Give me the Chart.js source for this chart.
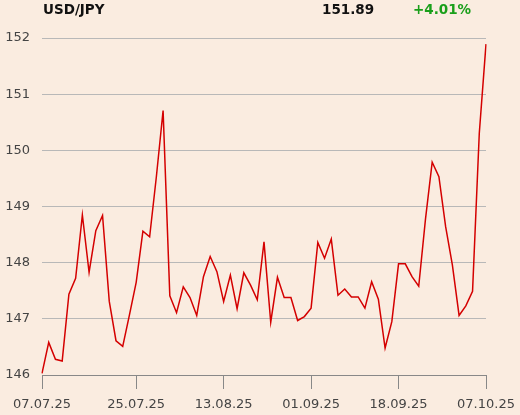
<!DOCTYPE html>
<html>
<head>
<meta charset="utf-8">
<script src="https://cdn.jsdelivr.net/npm/chart.js@4"></script>
<style>
    body { margin: 0; background: #faece0; }
    #wrap { position: relative; width: 520px; height: 415px; }
    .hdr { position: absolute; top: 1px; font: bold 13.5px "DejaVu Sans", sans-serif; color: #111; }
</style>
</head>
<body>
<div id="wrap">
    <span class="hdr" style="left: 43px;">USD/JPY</span>
    <span class="hdr" style="left: 322px;">151.89</span>
    <span class="hdr" style="left: 413px; color: #1a9f1a;">+4.01%</span>
    <canvas id="c" width="520" height="415"></canvas>
</div>
<script>
// USD/JPY closes, one per business day 07.07.25 - 07.10.25
const rates = [
    146.03, 146.58, 146.28, 146.25, 147.44, 147.72, 148.85, 147.83, 148.57, 148.84,
    147.31, 146.61, 146.51, 147.07, 147.65, 148.56, 148.46, 149.53, 150.71, 147.41,
    147.11, 147.57, 147.38, 147.06, 147.75, 148.11, 147.84, 147.31, 147.78, 147.18,
    147.82, 147.60, 147.34, 148.37, 146.94, 147.74, 147.38, 147.38, 146.97, 147.04,
    147.19, 148.36, 148.08, 148.42, 147.42, 147.53, 147.39, 147.39, 147.19, 147.66,
    147.35, 146.48, 146.95, 147.98, 147.98, 147.75, 147.58, 148.77, 149.79, 149.53,
    148.64, 147.96, 147.06, 147.23, 147.49, 150.30, 151.89
];
const tickIdx = [0, 14, 27, 40, 53, 66];
const tickLabels = ["07.07.25", "25.07.25", "13.08.25", "01.09.25", "18.09.25", "07.10.25"];
const yTicks = [146, 147, 148, 149, 150, 151, 152];

// business-day categories
const days = [];
const d = new Date(2025, 6, 7);
while (days.length < rates.length) {
    const wd = d.getDay();
    if (wd !== 0 && wd !== 6) {
        days.push(String(d.getDate()).padStart(2, "0") + "." +
            String(d.getMonth() + 1).padStart(2, "0") + "." + String(d.getFullYear()).slice(2));
    }
    d.setDate(d.getDate() + 1);
}

const font = { family: "DejaVu Sans", size: 13 };

new Chart(document.getElementById("c"), {
    type: "line",
    data: {
        labels: days,
        datasets: [{
            data: rates,
            borderColor: "#d40000",
            borderWidth: 1.5,
            pointRadius: 0,
            tension: 0
        }]
    },
    options: {
        responsive: false,
        animation: false,
        layout: { padding: { left: 5, right: 34, top: 38, bottom: 0 } },
        plugins: { legend: { display: false }, tooltip: { enabled: false } },
        scales: {
            x: {
                grid: { drawOnChartArea: false, tickLength: 14, color: "#888" },
                border: { color: "#888" },
                afterFit: (s) => { s.height = 40; s.paddingLeft = 0; s.paddingRight = 0; },
                ticks: {
                    autoSkip: false,
                    maxRotation: 0,
                    padding: 8,
                    color: "#444",
                    font,
                    callback: (v, i) => {
                        const k = tickIdx.indexOf(i);
                        return k >= 0 ? tickLabels[k] : null;
                    }
                }
            },
            y: {
                min: yTicks[0],
                max: yTicks[yTicks.length - 1],
                grid: { drawTicks: false, color: "#b8b8b8" },
                border: { display: false },
                afterFit: (s) => { s.width = 37; s.paddingTop = 0; s.paddingBottom = 0; },
                ticks: { stepSize: 1, padding: 12, color: "#444", font }
            }
        }
    }
});
</script>
</body>
</html>
